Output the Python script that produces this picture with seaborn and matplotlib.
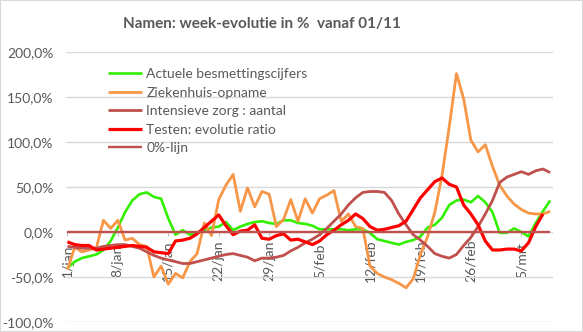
import numpy as np
import pandas as pd
import matplotlib
matplotlib.use("Agg")
import matplotlib.pyplot as plt
from matplotlib.ticker import FuncFormatter, FixedLocator
import seaborn as sns

# ---------------- data ----------------
days = list(range(68))  # 1 jan .. 9 mrt
tick_days = [0, 7, 14, 21, 28, 35, 42, 49, 56, 63]
tick_labels = ["1/jan", "8/jan", "15/jan", "22/jan", "29/jan",
               "5/feb", "12/feb", "19/feb", "26/feb", "5/mrt"]

besmettingen = [-40, -33, -29, -27, -25, -20, -10, 5, 22, 35,
                42, 44, 39, 37, 15, -3, 2, -3, -1, 2,
                5, 6, 11, 2, 6, 9, 11, 12, 10, 9,
                13, 13, 10, 9, 7, 3, 3, 3, 3, 2,
                3, 3, -1, -8, -10, -12, -14, -11, -9, -5,
                5, 8, 16, 30, 35, 36, 33, 40, 33, 22,
                -1, -1, 4, 0, -5, 10, 23, 35]

ziekenhuis = [-42, -17, -22, -20, -18, 13, 4, 13, -9, -7,
              -14, -16, -50, -38, -58, -46, -51, -33, -24, 10,
              -4, 36, 52, 64, 23, 49, 28, 45, 42, 6,
              14, 36, 12, 37, 21, 37, 41, 46, 12, 20,
              6, 4, -38, -46, -50, -53, -57, -62, -52, -25,
              -5, 22, 63, 117, 176, 148, 102, 89, 97, 73,
              52, 40, 31, 25, 21, 20, 20, 23]

intensieve = [-16, -17, -18, -18, -18, -16, -15, -14, -14, -16,
              -18, -22, -26, -29, -31, -33, -35, -35, -33, -31,
              -29, -27, -25, -24, -26, -28, -32, -29, -29, -28,
              -26, -21, -17, -12, -8, -3, 4, 12, 20, 30,
              38, 44, 45, 45, 44, 35, 20, 8, -3, -9,
              -16, -24, -27, -29, -25, -15, -6, 6, 20, 35,
              55, 61, 64, 67, 64, 68, 70, 66]

testen = [-11, -14, -15, -15, -20, -19, -18, -17, -16, -15,
          -16, -17, -22, -23, -24, -10, -9, -7, -2, 5,
          12, 19, 7, -3, 1, 2, 8, -7, -8, -4,
          -2, -9, -8, -11, -14, -10, -3, 2, 8, 13,
          20, 15, 6, 2, 3, 5, 7, 12, 25, 38,
          47, 56, 60, 53, 50, 30, 20, 8, -10, -20,
          -20, -19, -19, -21, -12, 6, 20, np.nan]

nul_lijn = [0] * 68

series_names = ["Actuele besmettingscijfers", "Ziekenhuis-opname",
                "Intensieve zorg : aantal", "Testen: evolutie ratio", "0%-lijn"]
series_values = [besmettingen, ziekenhuis, intensieve, testen, nul_lijn]
series_colors = ["#33F000", "#F79646", "#C0504D", "#FF0000", "#C0504D"]
series_widths = [1.9, 2.0, 2.0, 2.3, 1.7]

title = "Namen: week-evolutie in %  vanaf 01/11"

# ---------------- style ----------------
sns.set_theme(style="white")
plt.rcParams["font.family"] = ["Lato", "DejaVu Sans"]
txt_color = "#595959"
grid_color = "#D9D9D9"
fs = 10

W, H = 583, 332
fig = plt.figure(figsize=(W / 100, H / 100), dpi=100)
ax = fig.add_axes([66 / W, 1 - 322 / H, (553 - 66) / W, (322 - 52) / H])

for name, vals, col, lw in zip(series_names, series_values, series_colors, series_widths):
    df = pd.DataFrame({"dag": days, "waarde": vals})
    sns.lineplot(data=df, x="dag", y="waarde", ax=ax, color=col, linewidth=lw,
                 label=name, solid_capstyle="butt")

ax.set_xlim(-0.2, 67.4)
ax.set_ylim(-100, 200)
ax.set_xlabel("")
ax.set_ylabel("")

# grid
ax.yaxis.set_major_locator(FixedLocator([-100, -50, 0, 50, 100, 150, 200]))
ax.yaxis.set_major_formatter(FuncFormatter(lambda v, p: f"{v:.1f}%".replace(".", ",")))
ax.grid(axis="y", color=grid_color, linewidth=1.0)
ax.grid(axis="x", visible=False)
ax.set_axisbelow(True)

for s in ["top", "right", "left"]:
    ax.spines[s].set_visible(False)
ax.spines["bottom"].set_position(("data", 0))
ax.spines["bottom"].set_visible(False)

ax.set_xticks(tick_days)
ax.set_xticklabels(tick_labels)
ax.tick_params(axis="x", bottom=True, length=3, width=0.8, color="#BFBFBF",
               labelsize=fs, labelcolor=txt_color, labelrotation=90, pad=17.5)
plt.setp(ax.get_xticklabels(), va="center")
ax.tick_params(axis="y", left=False, length=0, labelsize=fs, labelcolor=txt_color, pad=9)

leg = ax.legend(loc="upper left", bbox_to_anchor=(108 / W, 1 - 68 / H),
                bbox_transform=fig.transFigure, frameon=False, fontsize=fs,
                handlelength=2.45, handletextpad=0.3, labelspacing=0.47,
                borderpad=0, borderaxespad=0)
for t in leg.get_texts():
    t.set_color(txt_color)

fig.text(262 / W, 1 - 24 / H, title, ha="center", va="center",
         fontsize=11, fontweight="bold", color=txt_color)

# chart border
fig.patches.append(plt.Rectangle((0, 0), 1, 1, transform=fig.transFigure,
                                 fill=False, edgecolor=grid_color, linewidth=1.5))

fig.savefig("out.png", dpi=100)
